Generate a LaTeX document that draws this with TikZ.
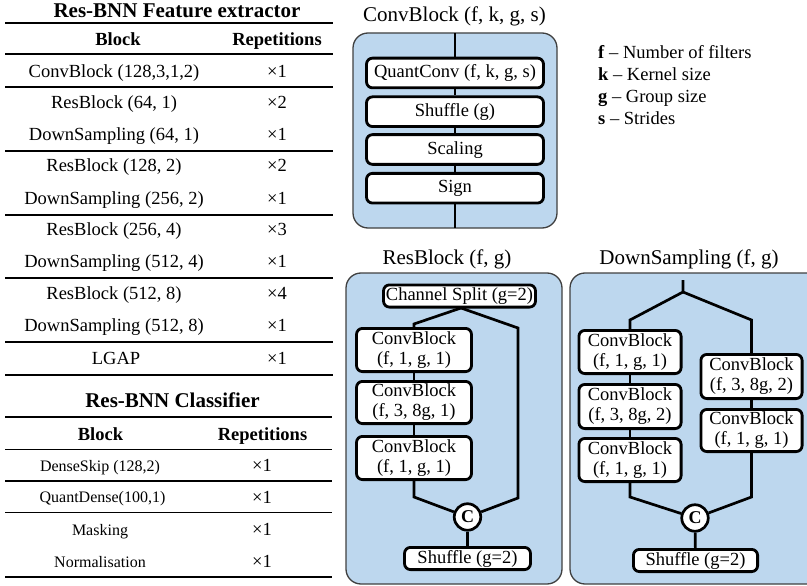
\documentclass[tikz,border=0pt]{standalone}
\usepackage{fontspec}
\setmainfont{Liberation Serif}
\definecolor{panelblue}{HTML}{BDD7EE}
\newcommand{\fsz}[2]{\fontsize{#1pt}{#2pt}\selectfont}
\begin{document}
\begin{tikzpicture}[x=1pt,y=-1pt,
  rowtxt/.style={inner sep=0pt, font=\fsz{18.5}{20}, text height=13.3pt, text depth=4.1pt},
  headtxt/.style={inner sep=0pt, font=\bfseries\fsz{18.5}{20}, text height=13.3pt, text depth=4.1pt},
  ttl/.style={inner sep=0pt, font=\bfseries\fsz{21}{23}, text height=15pt, text depth=4.6pt},
  smalltxt/.style={inner sep=0pt, font=\fsz{16}{18}, text height=11.5pt, text depth=3.5pt},
  thickrule/.style={line width=1.8pt},
  thinrule/.style={line width=1.2pt},
  panel/.style={draw=black!75, line width=1.3pt, fill=panelblue, rounded corners=15pt},
  blk/.style={draw=black, line width=2.8pt, fill=white, rounded corners=6pt, inner sep=0pt, align=center, font=\fsz{18.5}{20}},
  blktwo/.style={blk, execute at begin node={\rule{0pt}{17pt}}},
  blkone/.style={blk, text height=13.3pt, text depth=4.1pt},
  wire/.style={draw=black, line width=2.7pt},
  cat/.style={circle, draw=black, line width=2.7pt, fill=white, minimum size=26.5pt, inner sep=0pt, font=\bfseries\fsz{18}{19}},
  diagttl/.style={inner sep=0pt, font=\fsz{21}{23}, text height=15pt, text depth=4.6pt},
  legend/.style={inner sep=0pt, anchor=west, font=\fsz{18.5}{20}, text height=13.3pt, text depth=4.1pt},
]
\useasboundingbox (0,0) rectangle (807,586);
\clip (0,0) rectangle (807,586);

% ---------- Table: feature extractor ----------
\node[ttl] (t1title) at (177,12.8) {Res-BNN Feature extractor};
\draw[thickrule] (5,23) -- (333,23);
\node[headtxt] (t1hb) at (118,40.5) {Block};
\node[headtxt] (t1hr) at (277,40.5) {Repetitions};
\draw[thinrule] (5,54) -- (333,54);
\node[rowtxt] (t1b1) at (114,72.5) {ConvBlock (128,3,1,2)};
\node[rowtxt] (t1r1) at (277,72.5) {×1};
\draw[thinrule] (5,87) -- (333,87);
\node[rowtxt] (t1b2) at (114,104) {ResBlock (64, 1)};
\node[rowtxt] (t1r2) at (277,104) {×2};
\node[rowtxt] (t1b3) at (114,136) {DownSampling (64, 1)};
\node[rowtxt] (t1r3) at (277,136) {×1};
\draw[thinrule] (5,151) -- (333,151);
\node[rowtxt] (t1b4) at (114,167) {ResBlock (128, 2)};
\node[rowtxt] (t1r4) at (277,167) {×2};
\node[rowtxt] (t1b5) at (114,199.5) {DownSampling (256, 2)};
\node[rowtxt] (t1r5) at (277,199.5) {×1};
\draw[thinrule] (5,215) -- (333,215);
\node[rowtxt] (t1b6) at (114,230.5) {ResBlock (256, 4)};
\node[rowtxt] (t1r6) at (277,230.5) {×3};
\node[rowtxt] (t1b7) at (114,263) {DownSampling (512, 4)};
\node[rowtxt] (t1r7) at (277,263) {×1};
\draw[thinrule] (5,278) -- (333,278);
\node[rowtxt] (t1b8) at (114,294.5) {ResBlock (512, 8)};
\node[rowtxt] (t1r8) at (277,294.5) {×4};
\node[rowtxt] (t1b9) at (114,326.5) {DownSampling (512, 8)};
\node[rowtxt] (t1r9) at (277,326.5) {×1};
\draw[thinrule] (5,342) -- (333,342);
\node[rowtxt] (t1b10) at (116,360) {LGAP};
\node[rowtxt] (t1r10) at (277,360) {×1};
\draw[thickrule] (5,375) -- (333,375);

% ---------- Table: classifier ----------
\node[ttl] (t2title) at (172.5,402) {Res-BNN Classifier};
\draw[thickrule] (5,416.7) -- (332,416.7);
\node[headtxt] (t2hb) at (100.5,435.5) {Block};
\node[headtxt] (t2hr) at (262.5,435.5) {Repetitions};
\draw[thinrule] (5,449.3) -- (332,449.3);
\node[smalltxt] (t2b1) at (100,467) {DenseSkip (128,2)};
\node[rowtxt] (t2r1) at (262,467) {×1};
\draw[thinrule] (5,481) -- (332,481);
\node[smalltxt] (t2b2) at (102.5,498.5) {QuantDense(100,1)};
\node[rowtxt] (t2r2) at (262,498.5) {×1};
\draw[thinrule] (5,512.7) -- (332,512.7);
\node[smalltxt] (t2b3) at (100,531) {Masking};
\node[rowtxt] (t2r3) at (262,531) {×1};
\node[smalltxt] (t2b4) at (100,563) {Normalisation};
\node[rowtxt] (t2r4) at (262,563) {×1};
\draw[thickrule] (5,576.7) -- (332,576.7);

% ---------- ConvBlock ----------
\draw[panel] (353,33) rectangle (557,228);
\node[diagttl] (cbttl) at (454.5,16) {ConvBlock (f, k, g, s)};
\coordinate (cbin) at (455,33);
\coordinate (cbout) at (455,228);
\node[blkone, minimum width=177pt, minimum height=29.7pt] (qc) at (455,73) {QuantConv (f, k, g, s)};
\node[blkone, minimum width=177pt, minimum height=29.7pt] (sh) at (455,111.7) {Shuffle (g)};
\node[blkone, minimum width=177pt, minimum height=29.7pt] (sc) at (455,149.5) {Scaling};
\node[blkone, minimum width=177pt, minimum height=29.7pt] (sg) at (455,188.2) {Sign};
\draw[wire] (cbin) -- (qc);
\draw[wire] (qc) -- (sh);
\draw[wire] (sh) -- (sc);
\draw[wire] (sc) -- (sg);
\draw[wire] (sg) -- (cbout);

% legend
\node[legend] (lgf) at (598,53.7) {\textbf{f} -- Number of filters};
\node[legend] (lgk) at (598,75.7) {\textbf{k} -- Kernel size};
\node[legend] (lgg) at (598,97.7) {\textbf{g} -- Group size};
\node[legend] (lgs) at (598,119.7) {\textbf{s} -- Strides};

% ---------- ResBlock ----------
\draw[panel] (346,273) rectangle (562,584);
\node[diagttl] (rbttl) at (447,259) {ResBlock (f, g)};
\node[blkone, minimum width=152pt, minimum height=22.2pt] (cs) at (459.5,296) {Channel Split (g=2)};
\node[blktwo, minimum width=115pt, minimum height=43.2pt] (r1) at (414,350) {ConvBlock\\(f, 1, g, 1)};
\node[blktwo, minimum width=115pt, minimum height=42.2pt] (r2) at (414,402.5) {ConvBlock\\(f, 3, 8g, 1)};
\node[blktwo, minimum width=115pt, minimum height=43.2pt] (r3) at (414,458) {ConvBlock\\(f, 1, g, 1)};
\node[cat] (c1) at (467.5,517) {C};
\node[blkone, minimum width=126pt, minimum height=22.2pt] (rs) at (467.5,558.5) {Shuffle (g=2)};
\coordinate (rsp) at (461,308);
\coordinate (rl) at (414,324);
\coordinate (rr) at (518,328);
\coordinate (rrb) at (518,498);
\coordinate (rlb) at (414,497);
\draw[wire] (rsp) -- (rl) -- (r1.north);
\draw[wire] (rsp) -- (rr) -- (rrb) -- (c1);
\draw[wire] (r1) -- (r2);
\draw[wire] (r2) -- (r3);
\draw[wire] (r3.south) -- (rlb) -- (c1);
\draw[wire] (c1) -- (rs);

% ---------- DownSampling ----------
\draw[panel] (570,273) rectangle (830,584);
\node[diagttl] (dsttl) at (689,259) {DownSampling (f, g)};
\coordinate (din) at (683,280);
\coordinate (dfork) at (683,292);
\coordinate (dl) at (630,320);
\coordinate (dr) at (751.5,320);
\node[blktwo, minimum width=102.2pt, minimum height=43.2pt] (d1) at (630,352) {ConvBlock\\(f, 1, g, 1)};
\node[blktwo, minimum width=102.2pt, minimum height=44.2pt] (d2) at (630,406.5) {ConvBlock\\(f, 3, 8g, 2)};
\node[blktwo, minimum width=102.2pt, minimum height=43.2pt] (d3) at (630,460) {ConvBlock\\(f, 1, g, 1)};
\node[blktwo, minimum width=101.2pt, minimum height=44.2pt] (e1) at (751.5,376.5) {ConvBlock\\(f, 3, 8g, 2)};
\node[blktwo, minimum width=101.2pt, minimum height=42.2pt] (e2) at (751.5,430.5) {ConvBlock\\(f, 1, g, 1)};
\node[cat] (c2) at (695,518) {C};
\node[blkone, minimum width=124.2pt, minimum height=22.2pt] (ds) at (695.5,560.5) {Shuffle (g=2)};
\coordinate (dlb) at (630,497);
\coordinate (drb) at (751.5,497);
\draw[wire] (din) -- (dfork) -- (dl) -- (d1.north);
\draw[wire] (dfork) -- (dr) -- (e1.north);
\draw[wire] (d1) -- (d2);
\draw[wire] (d2) -- (d3);
\draw[wire] (e1) -- (e2);
\draw[wire] (d3.south) -- (dlb) -- (c2);
\draw[wire] (e2.south) -- (drb) -- (c2);
\draw[wire] (c2) -- (ds);
\end{tikzpicture}
\end{document}
